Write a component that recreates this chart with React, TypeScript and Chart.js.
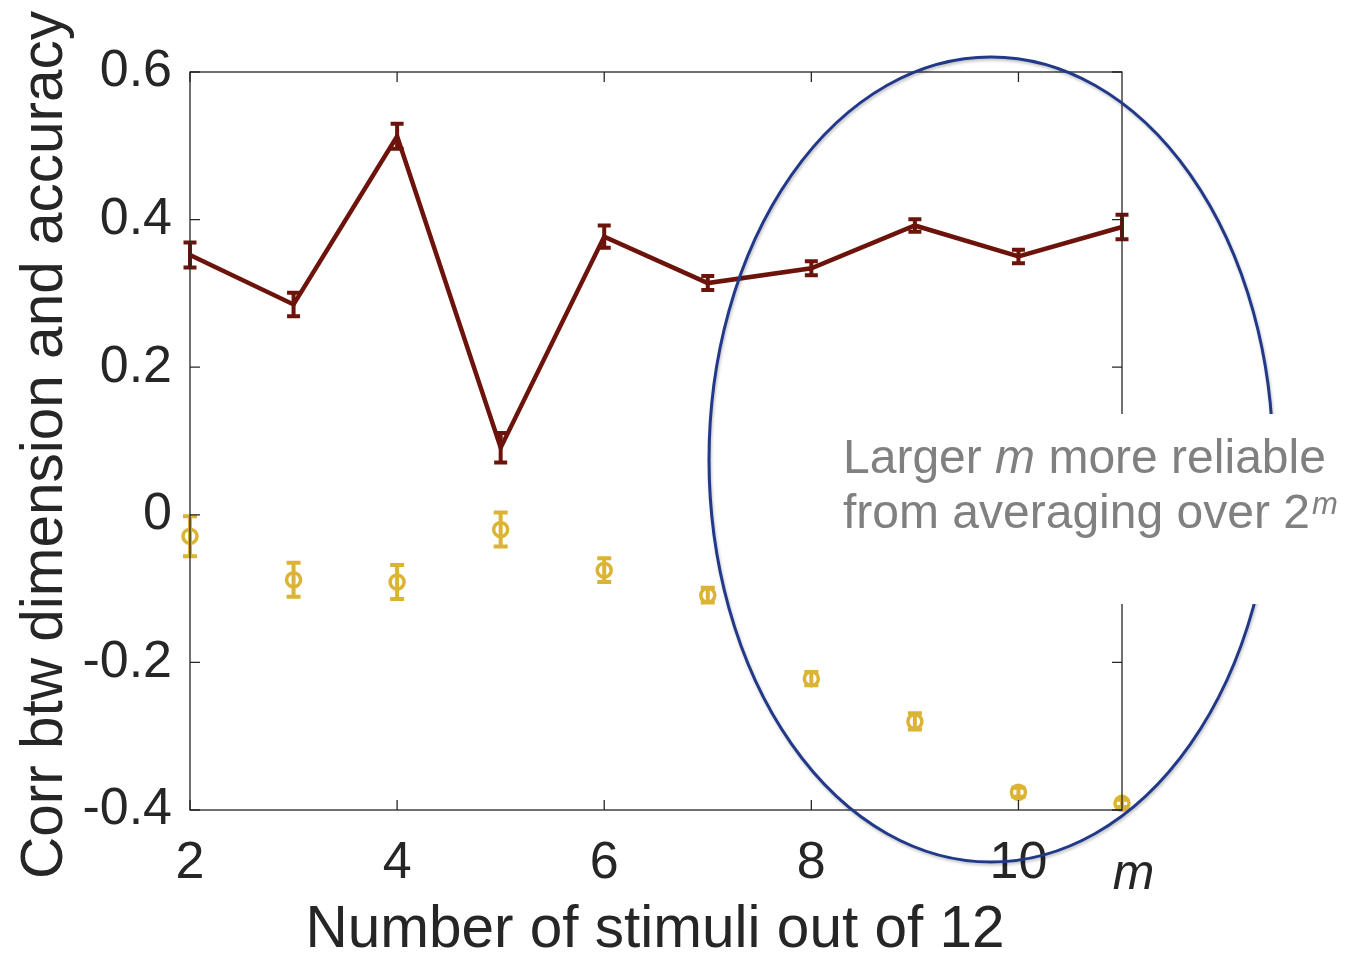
import React, { useEffect, useRef } from "react";
import { Chart, registerables } from "chart.js";

Chart.register(...registerables);

// ---- data ----
const stimuliCounts = [2, 3, 4, 5, 6, 7, 8, 9, 10, 11];
const redMeans = [0.352, 0.285, 0.513, 0.091, 0.377, 0.314, 0.334, 0.392, 0.350, 0.390];
const redErrors = [0.017, 0.016, 0.017, 0.020, 0.015, 0.0095, 0.0095, 0.0086, 0.009, 0.0165];
const yellowMeans = [-0.029, -0.088, -0.091, -0.020, -0.075, -0.109, -0.222, -0.280, -0.376, -0.391];
const yellowErrors = [0.027, 0.023, 0.023, 0.023, 0.016, 0.010, 0.009, 0.011, 0.006, 0.005];
const xTickValues = [2, 4, 6, 8, 10];
const yTickValues = [-0.4, -0.2, 0, 0.2, 0.4, 0.6];
const yTickLabels = ["-0.4", "-0.2", "0", "0.2", "0.4", "0.6"];
const xAxisTitle = "Number of stimuli out of 12";
const yAxisTitle = "Corr btw dimension and accuracy";
const axisVariable = "m";
const noteLine1 = ["Larger ", "m", " more reliable"];
const noteLine2 = ["from averaging over 2", "m"];

const RED = "#6c140b";
const YELLOW = "#dcb435";
const BLUE = "#22398a";
const AXIS = "#262626";
const FONT = "'Liberation Sans', Arial, Helvetica, sans-serif";

const errorBarPlugin = {
  id: "errorBars",
  afterDatasetsDraw(chart: any) {
    const ctx = chart.ctx;
    const ys = chart.scales.y;
    const sets = [
      { idx: 0, errs: redErrors, color: RED, lw: 4, cap: 6.5 },
      { idx: 1, errs: yellowErrors, color: YELLOW, lw: 4, cap: 7 },
    ];
    ctx.save();
    sets.forEach((s) => {
      const meta = chart.getDatasetMeta(s.idx);
      const data = chart.data.datasets[s.idx].data as number[];
      ctx.strokeStyle = s.color;
      ctx.lineWidth = s.lw;
      meta.data.forEach((pt: any, i: number) => {
        const x = pt.x;
        const yTop = ys.getPixelForValue(data[i] + s.errs[i]);
        const yBot = ys.getPixelForValue(data[i] - s.errs[i]);
        ctx.beginPath();
        ctx.moveTo(x, yTop);
        ctx.lineTo(x, yBot);
        ctx.moveTo(x - s.cap, yTop);
        ctx.lineTo(x + s.cap, yTop);
        ctx.moveTo(x - s.cap, yBot);
        ctx.lineTo(x + s.cap, yBot);
        ctx.stroke();
      });
    });
    ctx.restore();
  },
};

const frameAndNotesPlugin = {
  id: "frameAndNotes",
  afterDraw(chart: any) {
    const ctx = chart.ctx;
    const { left, right, top, bottom } = chart.chartArea;
    const xs = chart.scales.x;
    const ys = chart.scales.y;
    ctx.save();
    // box
    ctx.strokeStyle = AXIS;
    ctx.lineWidth = 1.3;
    ctx.strokeRect(left, top, right - left, bottom - top);
    // inner ticks
    const tl = 10;
    ctx.beginPath();
    xTickValues.forEach((v) => {
      const x = xs.getPixelForValue(v);
      ctx.moveTo(x, bottom);
      ctx.lineTo(x, bottom - tl);
      ctx.moveTo(x, top);
      ctx.lineTo(x, top + tl);
    });
    yTickValues.forEach((v) => {
      const y = ys.getPixelForValue(v);
      ctx.moveTo(left, y);
      ctx.lineTo(left + tl, y);
      ctx.moveTo(right, y);
      ctx.lineTo(right - tl, y);
    });
    ctx.stroke();

    // ellipse annotation (data coords)
    const cx = xs.getPixelForValue(9.735);
    const cy = ys.getPixelForValue(0.075);
    const rx = xs.getPixelForValue(9.735 + 2.723) - cx;
    const ry = cy - ys.getPixelForValue(0.075 + 0.5454);
    ctx.save();
    ctx.shadowColor = "rgba(0,0,0,0.25)";
    ctx.shadowBlur = 3;
    ctx.shadowOffsetX = 1;
    ctx.shadowOffsetY = 2;
    ctx.strokeStyle = BLUE;
    ctx.lineWidth = 3;
    ctx.beginPath();
    ctx.ellipse(cx, cy, rx, ry, 0, 0, Math.PI * 2);
    ctx.stroke();
    ctx.restore();

    // white text box
    const bx0 = xs.getPixelForValue(8.18);
    const bx1 = xs.getPixelForValue(12.72);
    const by0 = ys.getPixelForValue(0.1366);
    const by1 = ys.getPixelForValue(-0.1209);
    ctx.fillStyle = "#ffffff";
    ctx.fillRect(bx0, by0, bx1 - bx0, by1 - by0);

    // note text
    ctx.fillStyle = "#808080";
    ctx.textBaseline = "alphabetic";
    ctx.textAlign = "left";
    const tx = xs.getPixelForValue(8.306);
    const base1 = ys.getPixelForValue(0.057);
    const base2 = ys.getPixelForValue(-0.018);
    let x = tx;
    noteLine1.forEach((part, i) => {
      ctx.font = (i === 1 ? "italic " : "") + "48px " + FONT;
      ctx.fillText(part, x, base1);
      x += ctx.measureText(part).width;
    });
    ctx.font = "48px " + FONT;
    ctx.fillText(noteLine2[0], tx, base2);
    const w2 = ctx.measureText(noteLine2[0]).width;
    ctx.font = "italic 31px " + FONT;
    ctx.fillText(noteLine2[1], tx + w2 + 2, base2 - 14);

    // axis titles
    ctx.fillStyle = AXIS;
    ctx.font = "58.5px " + FONT;
    ctx.textAlign = "center";
    ctx.fillText(xAxisTitle, 655, bottom + 137);
    ctx.save();
    ctx.translate(62, 445);
    ctx.rotate(-Math.PI / 2);
    ctx.fillText(yAxisTitle, 0, 0);
    ctx.restore();

    // variable label "m"
    ctx.font = "italic 50px " + FONT;
    ctx.textAlign = "left";
    ctx.fillText(axisVariable, xs.getPixelForValue(10.91), bottom + 79);
    ctx.restore();
  },
};

export default function App() {
  const ref = useRef<HTMLCanvasElement | null>(null);
  useEffect(() => {
    document.body.style.margin = "0";
    const canvas = ref.current!;
    const chart = new Chart(canvas, {
      type: "line",
      data: {
        labels: stimuliCounts,
        datasets: [
          {
            data: redMeans,
            borderColor: RED,
            borderWidth: 4.5,
            pointRadius: 0,
            fill: false,
            tension: 0,
            clip: false,
          },
          {
            data: yellowMeans,
            borderColor: YELLOW,
            showLine: false,
            pointRadius: 7,
            pointBorderWidth: 3.5,
            pointBackgroundColor: "rgba(0,0,0,0)",
            pointBorderColor: YELLOW,
            pointStyle: "circle",
            clip: false,
          },
        ],
      },
      options: {
        animation: false,
        responsive: false,
        events: [],
        layout: { padding: { left: 0, top: 72, right: 225, bottom: 0 } },
        plugins: { legend: { display: false }, tooltip: { enabled: false } },
        scales: {
          x: {
            type: "linear",
            min: 2,
            max: 11,
            grid: { display: false, drawTicks: false },
            border: { display: false },
            afterBuildTicks: (s: any) => {
              s.ticks = xTickValues.map((v) => ({ value: v }));
            },
            afterFit: (s: any) => {
              s.height = 144;
            },
            ticks: {
              padding: 22,
              maxRotation: 0,
              autoSkip: false,
              color: AXIS,
              font: { family: FONT, size: 52 },
              callback: (v: any) => String(v),
            },
          },
          y: {
            type: "linear",
            min: -0.4,
            max: 0.6,
            grid: { display: false, drawTicks: false },
            border: { display: false },
            afterBuildTicks: (s: any) => {
              s.ticks = yTickValues.map((v) => ({ value: v }));
            },
            afterFit: (s: any) => {
              s.width = 190;
            },
            ticks: {
              padding: 18,
              autoSkip: false,
              color: AXIS,
              font: { family: FONT, size: 52 },
              callback: (v: any) => {
                const i = yTickValues.findIndex((t) => Math.abs(t - v) < 1e-9);
                return i >= 0 ? yTickLabels[i] : "";
              },
            },
          },
        },
      },
      plugins: [errorBarPlugin, frameAndNotesPlugin],
    } as any);
    return () => chart.destroy();
  }, []);
  return (
    <canvas
      ref={ref}
      width={1347}
      height={954}
      style={{ display: "block", width: 1347, height: 954 }}
    />
  );
}
